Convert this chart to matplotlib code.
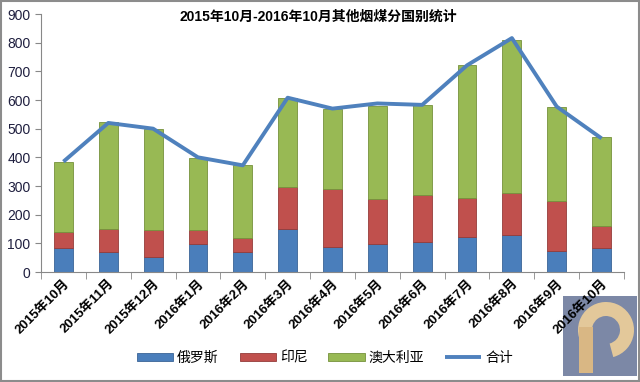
import matplotlib.pyplot as plt
import numpy as np
from matplotlib.patches import Rectangle, Wedge

plt.rcParams['font.family'] = ['Liberation Sans', 'Noto Sans CJK SC']

# 数据
months = ['2015年10月', '2015年11月', '2015年12月', '2016年1月', '2016年2月', '2016年3月',
          '2016年4月', '2016年5月', '2016年6月', '2016年7月', '2016年8月', '2016年9月', '2016年10月']
russia = [85, 70, 52, 98, 70, 150, 87, 97, 104, 121, 128, 72, 84]
indonesia = [55, 80, 95, 49, 49, 147, 202, 157, 164, 137, 148, 174, 76]
australia = [245, 372, 351, 252, 256, 311, 280, 325, 316, 463, 535, 331, 310]
total = [385, 520, 500, 400, 372, 608, 570, 588, 583, 721, 816, 577, 466]

x = np.arange(len(months))

fig = plt.figure(figsize=(6.4, 3.82), dpi=100)

# 右下角标志 (放在主图下面)
logo = fig.add_axes([563/640, 6/382, 74/640, 80/382], zorder=-1)
logo.set_facecolor('#7C88A6')
logo.set_xlim(0, 74)
logo.set_ylim(0, 80)
logo.set_xticks([])
logo.set_yticks([])
for s in logo.spines.values():
    s.set_visible(False)
logo.add_patch(Wedge((43, 46), 28, -75, 195, width=14, facecolor='#E3C89A', edgecolor='none'))
logo.add_patch(Rectangle((16, 3), 14, 46, facecolor='#D9B784', edgecolor='none'))

ax = fig.add_axes([41/640, 110/382, 583/640, 258/382])
ax.patch.set_facecolor('none')

w = 0.42
b1 = ax.bar(x, russia, w, color='#4A7EBB', edgecolor='#3A6496', linewidth=0.6)
b2 = ax.bar(x, indonesia, w, bottom=russia, color='#C0504D', edgecolor='#943C3A', linewidth=0.6)
bottom2 = np.array(russia) + np.array(indonesia)
b3 = ax.bar(x, australia, w, bottom=bottom2, color='#98B954', edgecolor='#76923C', linewidth=0.6)
ln, = ax.plot(x, total, color='#4F81BD', linewidth=2.8, solid_capstyle='butt')

ax.set_xlim(-0.5, len(months) - 0.5)
ax.set_ylim(0, 900)
ax.set_yticks(range(0, 901, 100))
ax.tick_params(axis='y', labelsize=10, labelcolor='#1F1F3F', color='#888888', length=4)
ax.set_xticks(x)
ax.set_xticklabels(months, rotation=45, ha='right', rotation_mode='anchor',
                   fontsize=9.5, fontweight='bold')
ax.tick_params(axis='x', length=0, pad=4)
ax.set_xticks(np.arange(-0.5, len(months)), minor=True)
ax.tick_params(axis='x', which='minor', length=5, color='#888888')
for s in ['top', 'right']:
    ax.spines[s].set_visible(False)
for s in ['left', 'bottom']:
    ax.spines[s].set_color('#888888')

fig.text(0.498, 0.955, '2015年10月-2016年10月其他烟煤分国别统计', ha='center', va='center',
         fontsize=10, fontweight='bold')

ax.legend([b1, b2, b3, ln], ['俄罗斯', '印尼', '澳大利亚', '合计'],
          loc='center', bbox_to_anchor=(0.487, -0.333), ncol=4, frameon=False,
          fontsize=10, handlelength=2.6, handleheight=0.55, columnspacing=1.5, handletextpad=0.3)

fig.patches.append(Rectangle((0.001, 0.002), 0.997, 0.995, transform=fig.transFigure,
                             fill=False, edgecolor='#8C8C8C', linewidth=1.5))

fig.savefig('out.png', dpi=100)
